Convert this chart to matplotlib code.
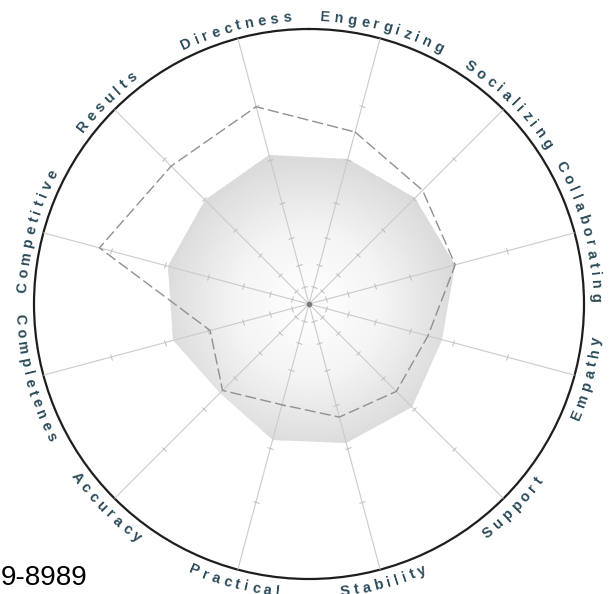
import numpy as np
import matplotlib
matplotlib.use('Agg')
import matplotlib.pyplot as plt
from matplotlib.colors import LinearSegmentedColormap
from matplotlib.markers import MarkerStyle
from matplotlib.transforms import Affine2D
from matplotlib.textpath import TextToPath
from matplotlib.font_manager import FontProperties

# axes in clockwise order, first one just right of the top
labels = ['Engergizing', 'Socializing', 'Collaborating', 'Empathy', 'Support', 'Stability',
          'Practical', 'Accuracy', 'Completenes', 'Competitive', 'Results', 'Directness']
profile = [5.02, 5.03, 5.05, 4.76, 4.94, 4.90, 4.83, 4.51, 4.83, 4.94, 4.96, 5.10]
compare = [5.55, 5.23, 5.05, 4.45, 4.46, 4.31, 4.00, 4.43, 3.95, 6.19, 5.84, 5.99]
rings = [1, 2, 3, 4, 5, 6]
rmax = 7
footer = '9-8989'

# the rings get wider going out, so use a growing scale
Q = 1.255


def fwd(v):
    return (Q ** np.asarray(v, float) - 1) / (Q - 1)


def inv(r):
    return np.log(1 + np.asarray(r, float) * (Q - 1)) / np.log(Q)


fig = plt.figure(figsize=(6.1, 5.94), dpi=100)
ax = fig.add_axes([34 / 610, 15 / 594, 550 / 610, 550 / 594], projection='polar')
ax.set_theta_zero_location('N')
ax.set_theta_direction(-1)
ax.set_rscale('function', functions=(fwd, inv))
ax.set_ylim(0, rmax)
ax.set_xticks([])
ax.set_yticks([])
ax.grid(False)
ax.spines['inner'].set_visible(False)
ax.spines['polar'].set_color('#1e1e1e')
ax.spines['polar'].set_linewidth(1.6)

n = len(labels)
angles_deg = 15 + 30 * np.arange(n)
theta = np.radians(angles_deg)
th_c = np.append(theta, theta[0])
prof_c = np.append(profile, profile[0])
comp_c = np.append(compare, compare[0])

# shaded area with a radial gradient, clipped to the profile polygon
poly = ax.fill(th_c, prof_c, facecolor='none', edgecolor='none', zorder=1)[0]
tg = np.linspace(0, 2 * np.pi, 241)
rg = np.linspace(0, 5.6, 57)
TT, RR = np.meshgrid(tg, rg)
C = np.repeat(fwd(0.5 * (rg[:-1] + rg[1:]))[:, None], len(tg) - 1, axis=1)
cmap = LinearSegmentedColormap.from_list('shade', ['#ffffff', '#f4f4f4', '#dadada'])
mesh = ax.pcolormesh(TT, RR, C, cmap=cmap, vmin=0, vmax=fwd(5.0), shading='flat', zorder=1)
mesh.set_clip_path(poly)

# spokes with small ticks
for t, a in zip(theta, angles_deg):
    ax.plot([t, t], [0, rmax], color='#cbcbcb', lw=0.8, zorder=3)
    mk = MarkerStyle('_', transform=Affine2D().rotate_deg(-a))
    ax.plot([t] * len(rings), rings, ls='none', marker=mk, ms=4,
            mec='#bdbdbd', mew=0.7, zorder=3)
ax.plot([0], [0], 'o', ms=3, color='#7a7a7a', zorder=4)

# comparison outline
ax.plot(th_c, comp_c, color='#909090', lw=1.0, dashes=(8, 3), zorder=4)

# labels bent along the outer ring
fp = FontProperties(family='Liberation Sans', weight='bold', size=10.5)
t2p = TextToPath()
sp = 4.2
R = 275.0


def char_w(ch):
    w, h, d = t2p.get_text_width_height_descent(ch, fp, ismath=False)
    return w * 100 / 72


for lab, a in zip(labels, angles_deg):
    flipped = 90 < a < 270
    r_px = 294 if flipped else 283
    widths = [char_w(c) for c in lab]
    total = sum(widths) + sp * (len(lab) - 1)
    s = -total / 2
    for ch, w in zip(lab, widths):
        off = np.degrees((s + w / 2) / r_px)
        ang = a - off if flipped else a + off
        rot = 180 - ang if flipped else -ang
        x = 0.5 + r_px / (2 * R) * np.sin(np.radians(ang))
        y = 0.5 + r_px / (2 * R) * np.cos(np.radians(ang))
        ax.text(x, y, ch, transform=ax.transAxes, rotation=rot, rotation_mode='anchor',
                ha='center', va='baseline', fontproperties=fp, color='#2c4b5a')
        s += w + sp

fig.text(88 / 610, 1 - 585 / 594, footer, ha='right', va='baseline',
         fontsize=20, family='Liberation Sans', color='black')

fig.savefig('out.png', dpi=100, facecolor='white')
